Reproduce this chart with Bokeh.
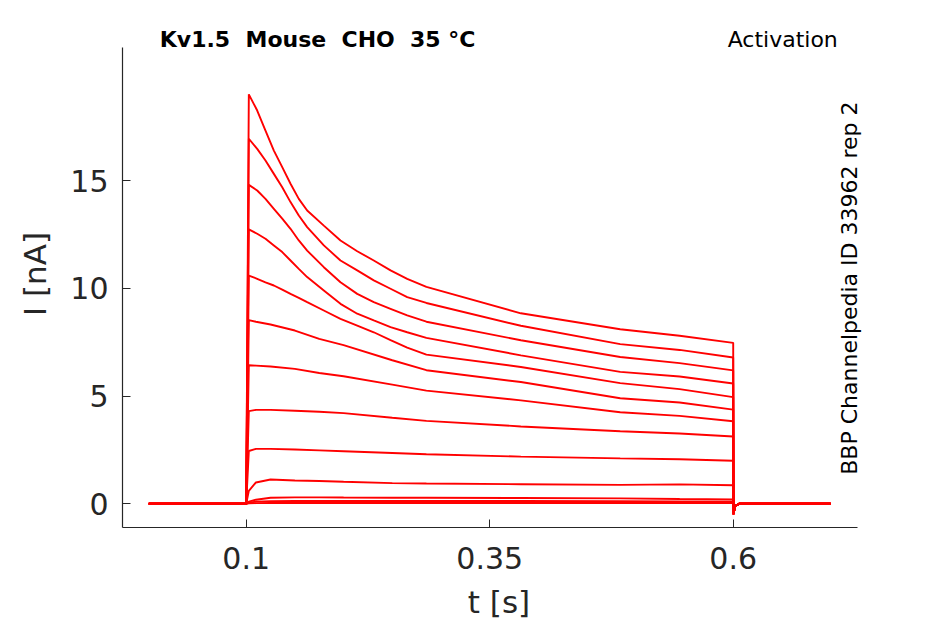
import math
from bokeh.plotting import figure
from bokeh.models import Label, Range1d, FixedTicker, NumeralTickFormatter
from bokeh.embed import file_html
from bokeh.resources import INLINE

# ---- data ----
t_pre = [0.0, 0.1]
t_post = [0.6003, 0.602, 0.606, 0.7]
i_tail = [-0.48, -0.1, 0.0, 0.0]

# large traces, finely sampled during the step
t_fast = [0.1027, 0.1113, 0.1198, 0.1284, 0.137, 0.1455, 0.154, 0.1626, 0.1797,
          0.1968, 0.214, 0.231, 0.2482, 0.2653, 0.285, 0.382, 0.484, 0.545, 0.6]
i1 = [19.0, 18.25, 17.32, 16.39, 15.62, 14.85, 14.15, 13.61, 12.91,
      12.22, 11.72, 11.29, 10.83, 10.44, 10.07, 8.84, 8.1, 7.8, 7.47]
i2 = [16.94, 16.47, 15.93, 15.31, 14.69, 14.0, 13.38, 12.84, 11.99,
      11.29, 10.83, 10.37, 9.98, 9.59, 9.32, 8.26, 7.41, 7.14, 6.79]
i3 = [14.80, 14.54, 14.15, 13.69, 13.23, 12.76, 12.22, 11.75, 10.98,
      10.28, 9.74, 9.36, 9.05, 8.74, 8.45, 7.59, 6.81, 6.53, 6.19]
i4 = [12.73, 12.53, 12.30, 11.99, 11.68, 11.29, 10.9, 10.52, 9.9,
      9.28, 8.82, 8.51, 8.2, 7.96, 7.7, 6.89, 6.12, 5.91, 5.58]
i5 = [10.59, 10.44, 10.28, 10.13, 9.94, 9.74, 9.56, 9.36, 8.97,
      8.58, 8.27, 7.96, 7.6, 7.25, 6.92, 6.35, 5.60, 5.32, 4.95]

# smaller traces, coarsely sampled during the step
t_slow = [0.1027, 0.11, 0.125, 0.15, 0.175, 0.2, 0.25, 0.285, 0.382, 0.484, 0.545, 0.6]
i6 = [8.52, 8.45, 8.32, 8.04, 7.65, 7.36, 6.66, 6.2, 5.65, 4.9, 4.70, 4.37]
i7 = [6.43, 6.41, 6.37, 6.26, 6.07, 5.92, 5.53, 5.25, 4.80, 4.25, 4.08, 3.83]
i8 = [4.30, 4.36, 4.36, 4.32, 4.27, 4.21, 3.99, 3.85, 3.59, 3.37, 3.26, 3.12]
i9 = [2.45, 2.55, 2.55, 2.52, 2.48, 2.44, 2.36, 2.3, 2.19, 2.11, 2.07, 2.0]
i10 = [0.6, 0.99, 1.13, 1.08, 1.06, 1.02, 0.96, 0.94, 0.91, 0.88, 0.9, 0.86]
i11 = [0.1, 0.19, 0.28, 0.3, 0.3, 0.29, 0.28, 0.28, 0.27, 0.25, 0.22, 0.2]
i12 = [0.05, 0.1, 0.12, 0.13, 0.13, 0.13, 0.13, 0.13, 0.13, 0.12, 0.11, 0.1]
i13 = [0.02, 0.03, 0.04, 0.04, 0.04, 0.04, 0.04, 0.04, 0.04, 0.04, 0.04, 0.04]

fast_traces = [i1, i2, i3, i4, i5]
slow_traces = [i6, i7, i8, i9, i10, i11, i12, i13]

x_ticks = [0.1, 0.35, 0.6]
y_ticks = [0, 5, 10, 15]

# double spaces kept visible with no-break spaces (SVG collapses plain runs)
title_left = "Kv1.5\u00a0 Mouse\u00a0 CHO\u00a0 35 °C"
title_right = "Activation"
side_text = "BBP Channelpedia ID 33962 rep 2"

# ---- figure ----
x0, x_axis_end, x1 = -0.0270, 0.7273, 0.7461
y0, y_axis_end, y1 = -1.0998, 21.17, 22.427
p = figure(frame_width=753, frame_height=507,
           min_border_left=122, min_border_right=65,
           min_border_top=20, min_border_bottom=95,
           x_range=Range1d(x0, x1), y_range=Range1d(y0, y1),
           output_backend="svg", toolbar_location=None)
p.background_fill_color = "white"
p.border_fill_color = "white"
p.outline_line_color = None
p.grid.visible = False

for tt, group in ((t_fast, fast_traces), (t_slow, slow_traces)):
    for tr in group:
        xs = t_pre + tt + t_post
        ys = [0.0, 0.0] + tr + i_tail
        p.line(xs, ys, line_color="#ff0000", line_width=1.9)

axis_col = "#262626"
for ax in (p.xaxis[0], p.yaxis[0]):
    ax.axis_line_color = axis_col
    ax.axis_line_width = 1.2
    ax.major_tick_line_color = axis_col
    ax.major_tick_in = 8
    ax.major_tick_out = 0
    ax.minor_tick_line_color = None
    ax.major_label_text_color = axis_col
    ax.major_label_text_font = "DejaVu Sans"
    ax.major_label_text_font_size = "30px"
    ax.axis_label_text_font = "DejaVu Sans"
    ax.axis_label_text_font_size = "31px"
    ax.axis_label_text_font_style = "normal"
    ax.axis_label_text_color = axis_col

p.xaxis.bounds = (x0, x_axis_end)
p.yaxis.bounds = (y0, y_axis_end)
p.xaxis.ticker = FixedTicker(ticks=x_ticks)
p.xaxis.formatter = NumeralTickFormatter(format="0.[00]")
p.yaxis.ticker = FixedTicker(ticks=y_ticks)
p.xaxis.axis_label = "t [s]"
p.yaxis.axis_label = "I [nA]"
p.xaxis.major_label_standoff = 19
p.yaxis.major_label_standoff = 14
p.xaxis.axis_label_standoff = 12
p.yaxis.axis_label_standoff = 14

title_y = y_axis_end + 8 / 21.55
p.add_layout(Label(x=0.0113, y=title_y, text=title_left, text_font="DejaVu Sans",
                   text_font_style="bold", text_font_size="22px",
                   text_color="black", text_baseline="alphabetic", text_align="left"))
p.add_layout(Label(x=0.7074, y=title_y, text=title_right, text_font="DejaVu Sans",
                   text_font_size="22px", text_color="black",
                   text_baseline="alphabetic", text_align="right"))
p.add_layout(Label(x=x_axis_end - 8 / 974, y=10.01, text=side_text, text_font="DejaVu Sans",
                   text_font_size="22px", text_color="black", angle=math.pi / 2,
                   text_baseline="alphabetic", text_align="center"))

open("out.html", "w").write(file_html(p, INLINE))
